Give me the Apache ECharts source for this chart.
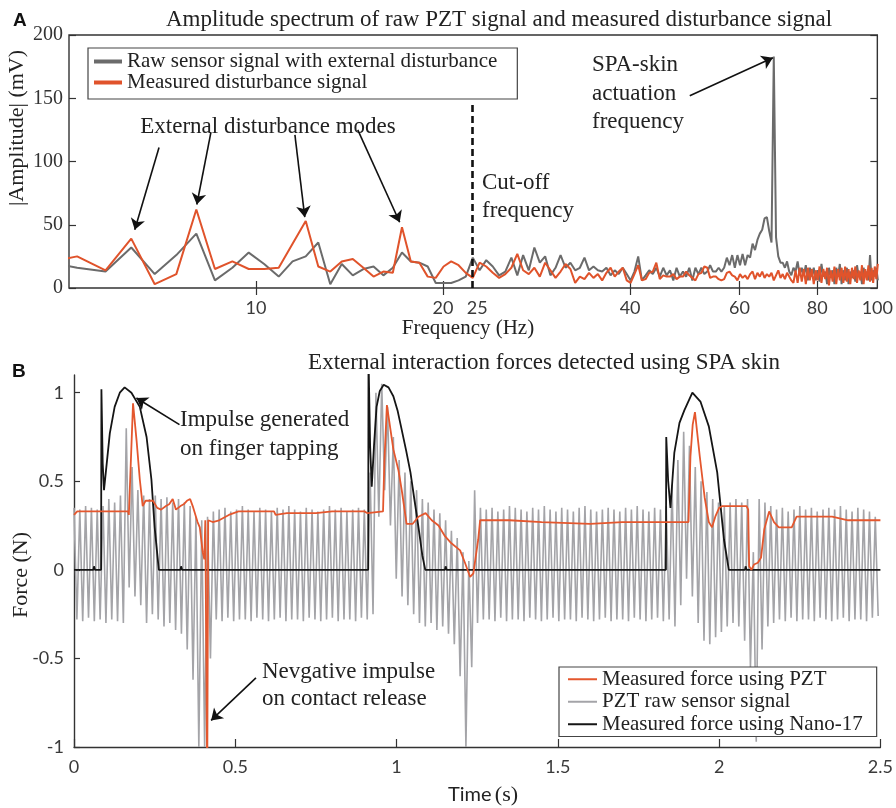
<!DOCTYPE html>
<html>
<head>
<meta charset="utf-8">
<script src="https://cdn.jsdelivr.net/npm/echarts@6/dist/echarts.min.js"></script>
<style>
  html, body { margin: 0; padding: 0; background: #fff; }
  #chart { width: 896px; height: 808px; }
</style>
</head>
<body>
<div id="chart"></div>
<script>
// ---- panel A: amplitude spectrum (FFT bins, 0.5725 Hz apart, first bin k = 8) ----
var binHz = 0.5725
var firstBin = 8
var specRaw = [
  21, 16, 13, 32, 11, 26, 43, 6, 16, 28, 19, 9, 21, 25, 36, 3, 19, 10, 15, 17, 10, 16, 28, 21, 20, 17, 4, 4,
  4, 6, 9, 24, 14, 22, 17, 10, 13, 24,
  10, 26, 14, 32, 20, 25, 10, 16, 26, 16,
  20, 14, 16, 24, 14, 17, 14, 13, 16, 10,
  14, 11, 16, 11, 6, 13, 25, 6, 10, 14,
  11, 16, 9, 16, 10, 14, 6, 16, 9, 13,
  9, 16, 6, 16, 11, 16, 11, 13, 18, 13, 13, 16,
  13, 16, 24, 18, 26, 16, 26, 18, 27, 18, 26, 24,
  35, 30, 38, 43, 46, 55, 56, 45, 36, 183, 40, 25, 20,
  20, 16, 21, 13, 10, 16, 13, 21, 10, 16, 10, 18, 6,
  16, 9, 16, 6, 14, 5, 19, 9, 13, 3,
  16, 8, 14, 3, 16, 9, 19, 3, 14, 6,
  16, 3, 13, 8, 14, 5, 18, 9, 13, 3,
  16, 9, 13, 6, 26, 6, 14, 9, 16, 6
]
var specPzt = [
  20, 25, 14, 39, 3, 11, 62, 15, 21, 15, 15, 16, 35, 53, 17, 13, 21, 23, 16, 9, 13, 12, 48, 21, 20, 9, 8, 17,
  21, 18, 12, 8, 20, 17, 12, 8, 11, 16,
  27, 14, 11, 16, 9, 20, 14, 8, 13, 19,
  15, 4, 9, 7, 12, 8, 11, 6, 12, 16,
  9, 13, 16, 6, 4, 11, 18, 6, 7, 12,
  13, 20, 7, 10, 9, 9, 11, 7, 9, 9,
  13, 10, 8, 6, 11, 12, 17, 16, 8, 9, 9, 7,
  6, 7, 12, 13, 10, 9, 6, 11, 8, 10, 7, 11,
  13, 7, 12, 9, 13, 8, 11, 9, 12, 6, 10, 14, 8,
  11, 7, 12, 9, 6, 4, 14, 4, 16, 5, 15, 3, 16,
  6, 15, 3, 14, 6, 17, 4, 15, 7, 16,
  2, 14, 5, 17, 3, 15, 6, 16, 4, 17,
  5, 15, 3, 16, 7, 17, 4, 14, 6, 18,
  3, 15, 6, 18, 5, 16, 4, 17, 7, 19
]
var freqTickVals = [10, 20, 40, 60, 80]
var freqLabelVals = [10, 20, 22.7, 40, 60, 80, 100]
var freqLabelText = ['10', '20', '25', '40', '60', '80', '100']
var cutoffHz = 22.25
var cutoffTop = 146
var modeArrows = [
  [[6.98, 111], [6.38, 46]],
  [[8.46, 123], [8.03, 66]],
  [[11.55, 121], [11.98, 56]],
  [[14.58, 125], [17.03, 52]]
]
var spaArrow = [[49.9, 152], [67.9, 182]]

// ---- panel B: force signals ----
var rawPeriod = 0.018
var rawPeaks = [
  0.35, 0.34, 0.36, 0.35, 0.34,
  0.36, 0.40, 0.38, 0.42,
  0.80, 0.58, 0.45, 0.42, 0.40, 0.42, 0.40, 0.41, 0.38, 0.40, 0.38, 0.36, 0.30, 0.28, 0.30,
  0.33, 0.34, 0.35, 0.33, 0.34, 0.36, 0.34, 0.33, 0.35, 0.34, 0.33, 0.35, 0.34, 0.36, 0.34, 0.33, 0.35, 0.34, 0.33, 0.34, 0.36, 0.34, 0.35, 0.33, 0.34, 0.35, 0.34,
  0.55, 1.00, 1.05, 0.92, 0.75, 0.62, 0.55, 0.50, 0.45, 0.40, 0.38, 0.34, 0.32, 0.28, 0.22, 0.18, 0.10, 0.05, 0.45, 0.35,
  0.34, 0.35, 0.33, 0.34, 0.36, 0.35, 0.34, 0.33, 0.35, 0.34, 0.36, 0.34, 0.33, 0.35, 0.34, 0.33, 0.35, 0.36, 0.34, 0.33, 0.34, 0.35, 0.34, 0.33, 0.35, 0.34, 0.36, 0.34, 0.33, 0.35, 0.34,
  0.36, 0.48, 0.62, 0.78, 0.70, 0.58, 0.50, 0.44, 0.40, 0.38, 0.36, 0.38, 0.40, 0.38, 0.40, 0.10, 0.40, 0.38, 0.36,
  0.34, 0.35, 0.33, 0.34, 0.36, 0.34, 0.35, 0.33, 0.34, 0.35, 0.34, 0.36, 0.34, 0.33, 0.35, 0.34, 0.33, 0.30
]
var rawTroughs = [
  -0.28, -0.29, -0.27, -0.29, -0.28,
  -0.30, -0.28, -0.29, -0.30,
  -0.10, -0.15, -0.20, -0.30, -0.25, -0.28, -0.32, -0.30, -0.34, -0.36, -0.45, -0.62, -1.0, -1.0, -0.50,
  -0.28, -0.29, -0.27, -0.29, -0.28, -0.28, -0.29, -0.27, -0.28, -0.29, -0.28, -0.27, -0.29, -0.28, -0.28, -0.29, -0.27, -0.28, -0.29, -0.28, -0.27, -0.29, -0.28, -0.28, -0.29, -0.27, -0.28,
  -0.25, 0.30, 0.45, 0.25, -0.05, -0.15, -0.20, -0.25, -0.30, -0.32, -0.30, -0.34, -0.32, -0.36, -0.42, -0.60, -1.0, -0.55, -0.30, -0.28,
  -0.28, -0.29, -0.27, -0.29, -0.28, -0.28, -0.29, -0.27, -0.28, -0.29, -0.28, -0.27, -0.29, -0.28, -0.28, -0.29, -0.27, -0.28, -0.29, -0.28, -0.27, -0.29, -0.28, -0.28, -0.29, -0.27, -0.28, -0.29, -0.28, -0.27, -0.29,
  -0.28, -0.32, -0.20, -0.05, -0.15, -0.30, -0.40, -0.42, -0.38, -0.35, -0.32, -0.30, -0.32, -0.40, -0.55, -0.97, -0.45, -0.32, -0.30,
  -0.28, -0.29, -0.27, -0.29, -0.28, -0.28, -0.29, -0.27, -0.28, -0.29, -0.28, -0.27, -0.29, -0.28, -0.28, -0.29, -0.27, -0.26
]
var pztForce = [
  [0, 0.31], [0.01, 0.33], [0.168, 0.33], [0.17, 0.31], [0.173, 0.31], [0.176, 0.6], [0.183, 0.94], [0.194, 0.73],
  [0.204, 0.51], [0.213, 0.36], [0.222, 0.39], [0.245, 0.39], [0.258, 0.35], [0.27, 0.34], [0.285, 0.36], [0.295, 0.37],
  [0.306, 0.40], [0.316, 0.34], [0.33, 0.36], [0.34, 0.37], [0.35, 0.39], [0.36, 0.40], [0.368, 0.36], [0.383, 0.27],
  [0.39, 0.24], [0.399, 0.1], [0.404, 0.06], [0.407, 0.28], [0.411, 0.29], [0.413, -1.2], [0.416, 0.28], [0.43, 0.27],
  [0.45, 0.28], [0.48, 0.31], [0.51, 0.33], [0.62, 0.33], [0.625, 0.31], [0.66, 0.32], [0.75, 0.32], [0.8, 0.33],
  [0.9, 0.33], [0.91, 0.32], [0.958, 0.33], [0.962, 0.6], [0.97, 0.93], [0.99, 0.68], [1.006, 0.56], [1.016, 0.45],
  [1.031, 0.26], [1.05, 0.26], [1.068, 0.30], [1.09, 0.32], [1.109, 0.28], [1.13, 0.25], [1.15, 0.19], [1.17, 0.15],
  [1.197, 0.11], [1.212, 0.04], [1.228, -0.04], [1.238, -0.02], [1.253, 0.17], [1.259, 0.28], [1.35, 0.28], [1.45, 0.27],
  [1.6, 0.26], [1.7, 0.27], [1.83, 0.27], [1.905, 0.27], [1.911, 0.64], [1.918, 0.82], [1.925, 0.89], [1.94, 0.64],
  [1.955, 0.41], [1.968, 0.27], [1.978, 0.24], [1.988, 0.30], [2.0, 0.35], [2.01, 0.36], [2.085, 0.36], [2.09, 0.34],
  [2.093, 0.02], [2.1, 0.0], [2.108, 0.03], [2.12, 0.04], [2.13, 0.07], [2.14, 0.23], [2.155, 0.33], [2.17, 0.27],
  [2.185, 0.24], [2.225, 0.24], [2.24, 0.30], [2.35, 0.30], [2.4, 0.28], [2.5, 0.28]
]
var nanoForce = [
  [0, 0], [0.06, 0], [0.062, 0.02], [0.065, 0], [0.084, 0], [0.085, 1.02], [0.089, 0.6], [0.093, 0.45], [0.111, 0.77],
  [0.126, 0.92], [0.142, 1.0], [0.157, 1.03], [0.178, 1.0], [0.204, 0.92], [0.225, 0.75], [0.24, 0.51], [0.25, 0.24],
  [0.263, 0], [0.33, 0], [0.332, 0.02], [0.335, 0], [0.912, 0], [0.913, 1.2], [0.918, 0.7], [0.923, 0.47], [0.93, 0.7],
  [0.938, 0.92], [0.948, 1.01], [0.96, 1.045], [0.975, 1.03], [0.99, 0.98], [1.003, 0.9], [1.016, 0.79], [1.03, 0.67],
  [1.043, 0.55], [1.055, 0.4], [1.068, 0.24], [1.08, 0.08], [1.089, 0], [1.15, 0], [1.152, 0.02], [1.155, 0],
  [1.835, 0], [1.836, 0.75], [1.842, 0.5], [1.849, 0.35], [1.861, 0.66], [1.877, 0.83], [1.892, 0.9], [1.917, 1.0],
  [1.942, 0.95], [1.968, 0.81], [1.994, 0.55], [2.015, 0.17], [2.03, 0], [2.08, 0], [2.082, 0.02], [2.085, 0], [2.5, 0]
]
var timeTicks = [-1, -0.5, 0, 0.5, 1]
var tapArrow = [[0.327, 0.82], [0.1935, 0.97]]
var releaseArrow = [[0.564, -0.61], [0.425, -0.85]]

var serif = '"Liberation Serif", "DejaVu Serif", serif'
var sans = 'Lato, "Open Sans", sans-serif'

var rawSpecData = specRaw.map(function(v, i) { return [(firstBin + i) * binHz, v] })
var pztSpecData = specPzt.map(function(v, i) { return [(firstBin + i) * binHz, v] })
var rawForceData = []
rawPeaks.forEach(function(p, i) {
  rawForceData.push([i * rawPeriod, p])
  rawForceData.push([(i + 0.5) * rawPeriod, rawTroughs[i]])
})

function arrowLine(pair) {
  return [{coord: pair[0]}, {coord: pair[1]}]
}

var tickStyle = {color: '#333', width: 1.2}
var axisLineStyle = {color: '#333', width: 1.4}

var myChart = echarts.init(document.getElementById('chart'))
var option = {
  animation: false,
  grid: [
    {left: 69, top: 35, width: 810, height: 253, show: true, borderColor: '#333', borderWidth: 1.4, backgroundColor: 'transparent'},
    {left: 74, top: 375, width: 810, height: 372}
  ],
  legend: [
    {
      data: ['Raw sensor signal with external disturbance', 'Measured disturbance signal'],
      orient: 'vertical', left: 88, top: 48, icon: 'rect',
      padding: [3, 20, 6, 6], itemGap: 0, itemWidth: 28, itemHeight: 4,
      borderColor: '#444', borderWidth: 1.2, backgroundColor: '#fff',
      textStyle: {fontFamily: serif, fontSize: 21, color: '#222', lineHeight: 21}
    },
    {
      data: ['Measured force using PZT', 'PZT raw sensor signal', 'Measured force using Nano-17'],
      orient: 'vertical', left: 559, top: 667, icon: 'rect',
      padding: [1, 14, 1, 9], itemGap: 0, itemWidth: 29, itemHeight: 2,
      borderColor: '#444', borderWidth: 1.2, backgroundColor: '#fff',
      textStyle: {fontFamily: serif, fontSize: 21, color: '#222', lineHeight: 22.5}
    }
  ],
  xAxis: [
    {
      gridIndex: 0, type: 'log', logBase: 10, min: 5, max: 100, position: 'bottom',
      axisLine: {show: false},
      axisTick: {inside: true, length: 7, lineStyle: tickStyle, customValues: freqTickVals},
      minorTick: {show: false}, splitLine: {show: false},
      axisLabel: {
        customValues: freqLabelVals, margin: 11,
        fontFamily: sans, fontSize: 18, color: '#3a3a3a',
        formatter: function(v) {
          for (var i = 0; i < freqLabelVals.length; i++) {
            if (Math.abs(freqLabelVals[i] - v) < 0.05) return freqLabelText[i]
          }
          return ''
        }
      }
    },
    {
      gridIndex: 0, type: 'log', logBase: 10, min: 5, max: 100, position: 'top',
      axisLine: {show: false},
      axisTick: {inside: true, length: 7, lineStyle: tickStyle, customValues: freqTickVals},
      minorTick: {show: false}, splitLine: {show: false},
      axisLabel: {show: false}
    },
    {
      gridIndex: 1, type: 'value', min: 0, max: 2.5, interval: 0.5,
      axisLine: {onZero: false, lineStyle: axisLineStyle},
      axisTick: {inside: true, length: 8, lineStyle: tickStyle},
      splitLine: {show: false},
      axisLabel: {margin: 11, fontFamily: sans, fontSize: 18, color: '#3a3a3a'}
    }
  ],
  yAxis: [
    {
      gridIndex: 0, type: 'value', min: 0, max: 200, interval: 50,
      axisLine: {show: false},
      axisTick: {inside: true, length: 7, lineStyle: tickStyle},
      splitLine: {show: false},
      axisLabel: {margin: 6, fontFamily: serif, fontSize: 20, color: '#333'}
    },
    {
      gridIndex: 0, type: 'value', min: 0, max: 200, interval: 50, position: 'right',
      axisLine: {show: false},
      axisTick: {inside: true, length: 7, lineStyle: tickStyle},
      splitLine: {show: false},
      axisLabel: {show: false}
    },
    {
      gridIndex: 1, type: 'value', min: -1, max: 1.1,
      axisLine: {show: true, onZero: false, lineStyle: axisLineStyle},
      axisTick: {inside: true, length: 6, lineStyle: tickStyle, customValues: timeTicks},
      splitLine: {show: false},
      axisLabel: {customValues: timeTicks, margin: 10, fontFamily: sans, fontSize: 18, color: '#3a3a3a'}
    }
  ],
  series: [
    {
      name: 'Raw sensor signal with external disturbance',
      type: 'line', xAxisIndex: 0, yAxisIndex: 0, data: rawSpecData,
      symbol: 'none', lineStyle: {color: '#6b6b6b', width: 2}, itemStyle: {color: '#6b6b6b'},
      markLine: {
        silent: true, symbol: ['none', 'none'], label: {show: false},
        lineStyle: {color: '#111', width: 2.6, type: [7, 4]},
        data: [[{coord: [cutoffHz, 0]}, {coord: [cutoffHz, cutoffTop]}]]
      }
    },
    {
      name: 'Measured disturbance signal',
      type: 'line', xAxisIndex: 0, yAxisIndex: 0, data: pztSpecData,
      symbol: 'none', lineStyle: {color: '#e0532b', width: 2}, itemStyle: {color: '#e0532b'},
      markLine: {
        silent: true, symbol: ['none', 'arrow'], symbolSize: 11, label: {show: false},
        lineStyle: {color: '#111', width: 1.6, type: 'solid'},
        data: modeArrows.map(arrowLine).concat([arrowLine(spaArrow)])
      }
    },
    {
      name: 'PZT raw sensor signal',
      type: 'line', xAxisIndex: 2, yAxisIndex: 2, data: rawForceData,
      symbol: 'none', lineStyle: {color: '#a4a4a8', width: 1.6}, itemStyle: {color: '#a4a4a8'}
    },
    {
      name: 'Measured force using Nano-17',
      type: 'line', xAxisIndex: 2, yAxisIndex: 2, data: nanoForce,
      symbol: 'none', lineStyle: {color: '#151515', width: 1.8}, itemStyle: {color: '#151515'}
    },
    {
      name: 'Measured force using PZT',
      type: 'line', xAxisIndex: 2, yAxisIndex: 2, data: pztForce,
      symbol: 'none', lineStyle: {color: '#e4572e', width: 1.8}, itemStyle: {color: '#e4572e'},
      markLine: {
        silent: true, symbol: ['none', 'arrow'], symbolSize: 11, label: {show: false},
        lineStyle: {color: '#111', width: 1.6, type: 'solid'},
        data: [arrowLine(tapArrow), arrowLine(releaseArrow)]
      }
    }
  ],
  graphic: [
    {type: 'text', x: 13, y: 21, style: {text: 'A', fontFamily: '"Liberation Sans", Arial, sans-serif', fontWeight: 'bold', fontSize: 19, fill: '#111', verticalAlign: 'middle'}},
    {type: 'text', x: 12, y: 372, style: {text: 'B', fontFamily: '"Liberation Sans", Arial, sans-serif', fontWeight: 'bold', fontSize: 19, fill: '#111', verticalAlign: 'middle'}},
    {type: 'text', x: 499, y: 20, style: {text: 'Amplitude spectrum of raw PZT signal and measured disturbance signal', fontFamily: serif, fontSize: 23, fill: '#222', align: 'center', verticalAlign: 'middle'}},
    {type: 'text', x: 17, y: 128, rotation: Math.PI / 2, style: {text: '|Amplitude| (mV)', fontFamily: serif, fontSize: 22, fill: '#222', align: 'center', verticalAlign: 'middle'}},
    {type: 'text', x: 468, y: 328, style: {text: 'Frequency (Hz)', fontFamily: serif, fontSize: 21, fill: '#222', align: 'center', verticalAlign: 'middle'}},
    {type: 'text', x: 268, y: 127, style: {text: 'External disturbance modes', fontFamily: serif, fontSize: 23, fill: '#222', align: 'center', verticalAlign: 'middle'}},
    {type: 'text', x: 592, y: 51, style: {text: 'SPA-skin\nactuation\nfrequency', fontFamily: serif, fontSize: 23, lineHeight: 28.5, fill: '#222', align: 'left', verticalAlign: 'top'}},
    {type: 'text', x: 482, y: 169, style: {text: 'Cut-off\nfrequency', fontFamily: serif, fontSize: 23, lineHeight: 28, fill: '#222', align: 'left', verticalAlign: 'top'}},
    {type: 'text', x: 544, y: 363, style: {text: 'External interaction forces detected using SPA skin', fontFamily: serif, fontSize: 23, fill: '#222', align: 'center', verticalAlign: 'middle'}},
    {type: 'text', x: 21, y: 575, rotation: Math.PI / 2, style: {text: 'Force (N)', fontFamily: serif, fontSize: 22, fill: '#222', align: 'center', verticalAlign: 'middle'}},
    {type: 'text', x: 180, y: 405.5, style: {text: 'Impulse generated\non finger tapping', fontFamily: serif, fontSize: 23, lineHeight: 29, fill: '#222', align: 'left', verticalAlign: 'top'}},
    {type: 'text', x: 262, y: 658.5, style: {text: 'Nevgative impulse\non contact release', fontFamily: serif, fontSize: 23, lineHeight: 27, fill: '#222', align: 'left', verticalAlign: 'top'}},
    {type: 'text', x: 483, y: 795, style: {
      text: '{a|Time} {b|(s)}', align: 'center', verticalAlign: 'middle', fill: '#222',
      rich: {a: {fontFamily: sans, fontSize: 20, fill: '#222'}, b: {fontFamily: serif, fontSize: 22, fill: '#222'}}
    }}
  ]
}
myChart.setOption(option)
</script>
</body>
</html>
